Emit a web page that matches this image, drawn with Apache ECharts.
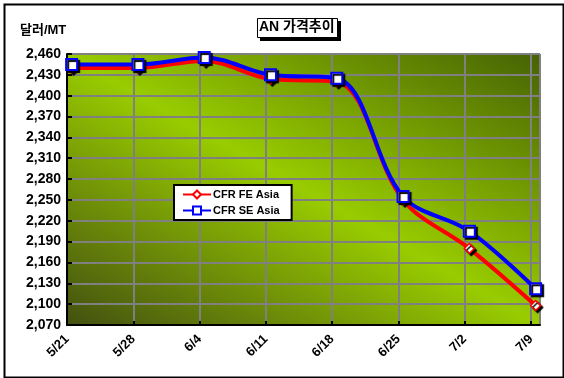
<!DOCTYPE html>
<html>
<head>
<meta charset="utf-8">
<script src="https://cdn.jsdelivr.net/npm/echarts@6/dist/echarts.min.js"></script>
<style>
  html, body { margin: 0; padding: 0; background: #fff; }
  #chart { width: 564px; height: 378px; }
</style>
</head>
<body>
<div id="chart"></div>
<script>
// 날짜 / 가격 (달러/MT)
const dates = ['5/21', '5/28', '6/4', '6/11', '6/18', '6/25', '7/2', '7/9']
const feAsia = [2440, 2440, 2450, 2424, 2420, 2250, 2180, 2098]
const seAsia = [2445, 2445, 2455, 2430, 2425, 2255, 2205, 2122]
const yTicks = { min: 2070, max: 2460, step: 30 }

const fontFamily = '"Liberation Sans", Arial, "Noto Sans CJK KR", sans-serif'

const el = document.getElementById('chart')
const chart = echarts.init(el)

const pts = (vals) => vals.map((v, i) => [i, v])

const option = {
    animation: false,
    backgroundColor: '#fff',
    grid: {
        left: 67,
        top: 54,
        right: 24,
        bottom: 53,
        show: true,
        borderWidth: 0,
        backgroundColor: {
            type: 'linear',
            x: 187, y: 394, x2: 420, y2: -15,
            global: true,
            colorStops: [
                { offset: 0, color: '#435010' },
                { offset: 0.5, color: '#99cc00' },
                { offset: 1, color: '#466204' }
            ]
        }
    },
    graphic: [
        // 바깥 테두리
        { type: 'rect', left: 2, top: 2, shape: { width: 559, height: 373 },
          style: { fill: 'none', stroke: '#000', lineWidth: 2 }, z: -1 },
        // 제목 상자
        { type: 'rect', left: 260, top: 21, shape: { width: 81, height: 20 },
          style: { fill: '#000' } },
        { type: 'rect', left: 257, top: 18, shape: { width: 80, height: 19 },
          style: { fill: '#fff', stroke: '#000', lineWidth: 1 } },
        { type: 'text', left: 259, top: 20,
          style: { text: 'AN 가격추이', font: 'bold 14px ' + fontFamily, fill: '#000' } },
        // 단위
        { type: 'text', left: 20, top: 24,
          style: { text: '달러/MT', font: 'bold 13px ' + fontFamily, fill: '#000' } }
    ],
    legend: {
        orient: 'vertical',
        left: 174,
        top: 185,
        data: ['CFR FE Asia', 'CFR SE Asia'],
        backgroundColor: '#fff',
        borderColor: '#000',
        borderWidth: 2,
        borderRadius: 0,
        padding: [4, 12, 4, 8],
        itemWidth: 28,
        itemHeight: 10,
        itemGap: 5,
        textStyle: { fontFamily: fontFamily, fontWeight: 'bold', fontSize: 11, color: '#000', padding: [0, 0, 0, -3] }
    },
    xAxis: [
        {
            // 표시용 축 (눈금, 격자, 날짜)
            type: 'value',
            min: 0,
            max: 7.136,
            interval: 1,
            axisLine: { show: true, onZero: false, lineStyle: { color: '#000', width: 2 } },
            axisTick: { show: true, inside: true, length: 4, lineStyle: { color: '#000', width: 2 } },
            splitLine: { show: true, lineStyle: { color: '#808080', width: 2 } },
            axisLabel: {
                rotate: 45,
                margin: 12,
                fontFamily: fontFamily,
                fontWeight: 'bold',
                fontSize: 13,
                color: '#000',
                showMaxLabel: false,
                formatter: function (v) {
                    return Number.isInteger(v) ? dates[v] : ''
                }
            }
        },
        {
            // 데이터용 축 (점이 격자선보다 약간 오른쪽)
            type: 'value',
            min: -0.07,
            max: 7.066,
            show: false
        }
    ],
    yAxis: {
        type: 'value',
        min: yTicks.min,
        max: yTicks.max,
        interval: yTicks.step,
        axisLine: { show: true, lineStyle: { color: '#000', width: 2 } },
        axisTick: { show: true, inside: true, length: 5, lineStyle: { color: '#000', width: 2 } },
        splitLine: { show: true, lineStyle: { color: '#808080', width: 2 } },
        axisLabel: {
            margin: 6,
            fontFamily: fontFamily,
            fontWeight: 'bold',
            fontSize: 14,
            color: '#000',
            formatter: function (v) { return v.toLocaleString('en-US') }
        }
    },
    series: [
        {
            name: 'CFR FE Asia',
            type: 'line',
            xAxisIndex: 1,
            data: pts(feAsia),
            smooth: 0.35,
            symbol: 'diamond',
            symbolSize: 10,
            lineStyle: { color: '#ff0000', width: 4 },
            itemStyle: { color: '#fff', borderColor: '#ff0000', borderWidth: 1.5,
                         shadowColor: '#000', shadowBlur: 1, shadowOffsetX: 2, shadowOffsetY: 2 },
            z: 3
        },
        {
            name: 'CFR SE Asia',
            type: 'line',
            xAxisIndex: 1,
            data: pts(seAsia),
            smooth: 0.35,
            symbol: 'rect',
            symbolSize: 11,
            lineStyle: { color: '#0000ff', width: 4 },
            itemStyle: { color: '#fff', borderColor: '#0000ff', borderWidth: 2,
                         shadowColor: '#000', shadowBlur: 1, shadowOffsetX: 2, shadowOffsetY: 2 },
            z: 4
        }
    ]
}

chart.setOption(option)
window.onresize = function () {
    chart.resize()
}
</script>
</body>
</html>
